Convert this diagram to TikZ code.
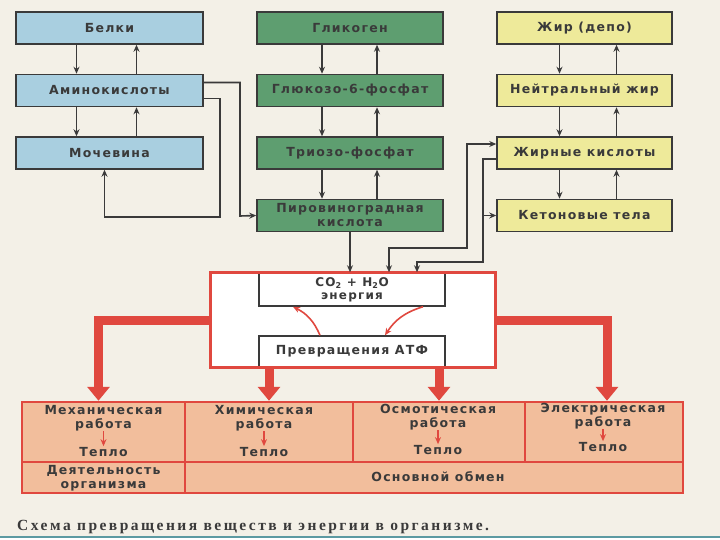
\documentclass[tikz,border=0pt]{standalone}
\usepackage{fontspec}
\setmainfont{DejaVu Sans}[LetterSpace=10]
\newfontfamily\capfont{Liberation Serif}[LetterSpace=16]
\usetikzlibrary{arrows.meta,positioning}

\definecolor{paper}{HTML}{F3F0E7}
\definecolor{protein}{HTML}{A9CFE0}
\definecolor{carb}{HTML}{5E9E70}
\definecolor{fat}{HTML}{EEEA9A}
\definecolor{work}{HTML}{F2BE9C}
\definecolor{redline}{HTML}{E0483F}
\definecolor{ink}{HTML}{3A3A3A}
\definecolor{slide}{HTML}{5C9AA2}

\tikzset{
  box/.style={draw=ink,line width=1.5pt,minimum height=32pt,inner sep=1pt,
    text=ink,align=center,font=\bfseries\fontsize{12.5}{14}\selectfont},
  bluebox/.style={box,fill=protein,minimum width=187pt},
  greenbox/.style={box,fill=carb,minimum width=186pt},
  yellowbox/.style={box,fill=fat,minimum width=175pt},
  whitebox/.style={box,fill=white,minimum width=186pt},
  cell/.style={draw=redline,line width=2.5pt,fill=work},
  lbl/.style={text=ink,align=center,inner sep=0pt,font=\bfseries\fontsize{12.5}{14.5}\selectfont},
  flow/.style={->,draw=ink,line width=1.6pt},
  bigflow/.style={-{Triangle[length=14pt,width=22pt]},draw=redline,line width=9pt},
  heat/.style={-{Stealth[length=7pt,width=6pt]},draw=redline,line width=1.6pt}
}

\begin{document}
\begin{tikzpicture}[x=1pt,y=-1pt,>={Stealth[length=7pt,width=6pt]}]
  \fill[paper] (0,0) rectangle (720,540);
  \useasboundingbox (0,0) rectangle (720,540);

  % three columns of substances
  \begin{scope}[on grid,node distance=62.5pt]
    \node[bluebox] (protein) at (109.5,28) {Белки};
    \node[bluebox] (amino) [below=of protein] {Аминокислоты};
    \node[bluebox] (urea) [below=of amino] {Мочевина};

    \node[greenbox] (glycogen) [right=240.5pt of protein] {Гликоген};
    \node[greenbox] (g6p) [below=of glycogen] {Глюкозо-6-фосфат};
    \node[greenbox] (triose) [below=of g6p] {Триозо-фосфат};
    \node[greenbox] (pyr) [below=of triose] {Пировиноградная\\кислота};

    \node[yellowbox] (depot) [right=234.5pt of glycogen] {Жир (депо)};
    \node[yellowbox] (neutral) [below=of depot] {Нейтральный жир};
    \node[yellowbox] (fatty) [below=of neutral] {Жирные кислоты};
    \node[yellowbox] (keto) [below=of fatty] {Кетоновые тела};
  \end{scope}

  \foreach \a/\b in {protein/amino,amino/urea} {
    \draw[flow] ([xshift=-33pt]\a.south) -- ([xshift=-33pt]\b.north);
    \draw[flow] ([xshift=27pt]\b.north) -- ([xshift=27pt]\a.south);
  }
  \foreach \a/\b in {glycogen/g6p,g6p/triose,triose/pyr} {
    \draw[flow] ([xshift=-28pt]\a.south) -- ([xshift=-28pt]\b.north);
    \draw[flow] ([xshift=27pt]\b.north) -- ([xshift=27pt]\a.south);
  }
  \foreach \a/\b in {depot/neutral,neutral/fatty,fatty/keto} {
    \draw[flow] ([xshift=-25pt]\a.south) -- ([xshift=-25pt]\b.north);
    \draw[flow] ([xshift=32pt]\b.north) -- ([xshift=32pt]\a.south);
  }

  % energy block
  \node[fill=white,minimum width=284pt,minimum height=94pt] (energy) at (353,320) {};
  \node[whitebox,minimum height=33pt,font=\bfseries\fontsize{12}{13}\selectfont] (co2) at (352,289.5)
    {CO\textsubscript{2} + H\textsubscript{2}O\\энергия};
  \node[whitebox,minimum height=31pt] (atf) at (352,351.5) {Превращения АТФ};
  \draw[redline,line width=3pt] (energy.north west) rectangle (energy.south east);
  \draw[heat] ([xshift=-32pt]atf.north) to[bend right=20] ([xshift=-59pt]co2.south);
  \draw[heat] ([xshift=71pt]co2.south) to[bend right=20] ([xshift=33pt]atf.north);

  % links
  \coordinate (a1) at (240,216);
  \coordinate (a2) at (220,217);
  \coordinate (k1) at (467,248);
  \coordinate (k2) at (483,262);
  \draw[flow] ([yshift=8pt]amino.east) -| (a1) -- (pyr.west);
  \draw[flow] ([yshift=-8pt]amino.east) -| (a2) -| ([xshift=-5pt]urea.south);
  \draw[flow] (pyr.south) -- (pyr.south |- co2.north);
  \draw[flow,<->] ([xshift=37pt]co2.north) |- (k1) |- ([yshift=9pt]fatty.west);
  \draw[flow] ([yshift=-6pt]fatty.west) -| (k2) -| ([xshift=65pt]co2.north);
  \draw[flow] (k2 |- keto.west) -- (keto.west);

  % kinds of work
  \node[cell,minimum width=163pt,minimum height=60pt] (mech) at (103.5,432) {};
  \node[cell,minimum width=168pt,minimum height=60pt] (chem) at (269,432) {};
  \node[cell,minimum width=172pt,minimum height=60pt] (osm) at (439,432) {};
  \node[cell,minimum width=158pt,minimum height=60pt] (elec) at (604,432) {};
  \node[cell,minimum width=163pt,minimum height=31pt] (org) at (103.5,477.5) {};
  \node[cell,minimum width=498pt,minimum height=31pt] (basal) at (434,477.5) {};

  \node[lbl] (mechT) at (103.5,418) {Механическая\\работа};
  \node[lbl] (chemT) at (264,418) {Химическая\\работа};
  \node[lbl] (osmT) at (438,417) {Осмотическая\\работа};
  \node[lbl] (elecT) at (603,416) {Электрическая\\работа};
  \node[lbl] (mechH) at (103.5,452) {Тепло};
  \node[lbl] (chemH) at (264,452) {Тепло};
  \node[lbl] (osmH) at (438,450) {Тепло};
  \node[lbl] (elecH) at (603,447) {Тепло};
  \foreach \w in {mech,chem,osm,elec}
    \draw[heat,line width=1.2pt,shorten >=1pt] (\w T.south) -- (\w H.north);
  \node[lbl] (orgT) at (103.5,478) {Деятельность\\организма};
  \node[lbl] (basalT) at (438,477) {Основной обмен};

  \draw[bigflow] (energy.west) -| ([xshift=-5pt]mech.north);
  \draw[bigflow] (chem.north |- energy.south) -- (chem.north);
  \draw[bigflow] (osm.north |- energy.south) -- (osm.north);
  \draw[bigflow] (energy.east) -| ([xshift=3pt]elec.north);

  \node[anchor=west,inner sep=0pt,text=ink,font=\capfont\bfseries\fontsize{15.5}{17}\selectfont]
    (caption) at (17,527) {Схема превращения веществ и энергии в организме.};
  \fill[slide] (0,535.5) rectangle (720,538);
  \fill[white] (0,538) rectangle (720,540);
\end{tikzpicture}
\end{document}
